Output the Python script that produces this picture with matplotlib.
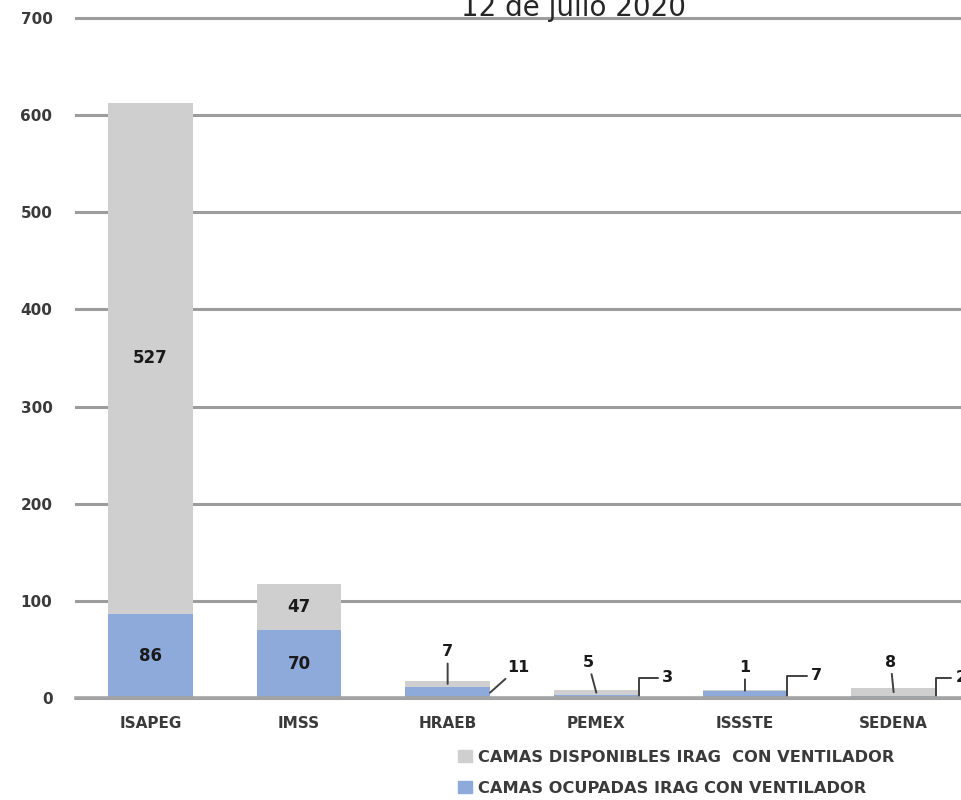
import matplotlib.pyplot as plt
from matplotlib.patches import Patch
import numpy as np

# datos
instituciones = ["ISAPEG", "IMSS", "HRAEB", "PEMEX", "ISSSTE", "SEDENA"]
ocupadas = [86, 70, 11, 3, 7, 2]
disponibles = [527, 47, 7, 5, 1, 8]
titulo = "12 de julio 2020"
serie_disp = "CAMAS DISPONIBLES IRAG  CON VENTILADOR"
serie_ocup = "CAMAS OCUPADAS IRAG CON VENTILADOR"

# estilo
AZUL = "#8eaadb"
GRIS = "#d0cfd0"
ANCHO = 0.57
GRID = "#9c9c9c"
TXT = "#3a3a3a"
plt.rcParams['font.family'] = ['DejaVu Sans']
plt.rcParams['font.weight'] = 'bold'

fig = plt.figure(figsize=(9.62, 8.0), dpi=100)
ax = fig.add_axes([0.079, 0.1275, 0.9272, 0.85])
x = np.arange(len(instituciones))
bocup = ax.bar(x, ocupadas, ANCHO, color=AZUL, zorder=3)
bdisp = ax.bar(x, disponibles, ANCHO, bottom=ocupadas, color=GRIS, zorder=3)

ax.set_xlim(-0.5, len(instituciones) - 0.5)
ax.set_ylim(0, 700)
ax.set_yticks(range(0, 701, 100))
ax.set_xticks(x)
ax.set_xticklabels(instituciones)
ax.grid(axis='y', color=GRID, linewidth=2.2, zorder=0)
ax.grid(axis='x', visible=False)
for gl in ax.get_ygridlines():
    gl.set_clip_on(False)
ax.axhline(0, color="#a3a3a3", linewidth=2.6, zorder=4, clip_on=False)
for s in ax.spines.values():
    s.set_visible(False)
ax.tick_params(axis='y', length=0, pad=17, labelsize=11, labelcolor=TXT)
ax.tick_params(axis='x', length=0, pad=13, labelsize=11, labelcolor=TXT)

# etiquetas centradas en barras grandes
grande = [o + d > 50 for o, d in zip(ocupadas, disponibles)]
ax.bar_label(bocup, labels=[str(v) if g else "" for v, g in zip(ocupadas, grande)],
             label_type='center', fontsize=12, color="#1a1a1a")
ax.bar_label(bdisp, labels=[str(v) if g else "" for v, g in zip(disponibles, grande)],
             label_type='center', fontsize=12, color="#1a1a1a")

# etiquetas con lineas guia en barras pequenas (offset en pixeles)
off_disp = {2: (0, 32), 3: (-8, 30), 4: (0, 23), 5: (-3, 30)}
off_ocup = {2: (28, 25), 3: (29, 20), 4: (29, 22), 5: (25, 20)}
flecha = dict(arrowstyle='-', color="#404040", lw=1.4, shrinkA=1, shrinkB=0)
for i in range(len(instituciones)):
    if grande[i]:
        continue
    ax.annotate(str(disponibles[i]), xy=(i, ocupadas[i] + disponibles[i] / 2),
                xytext=off_disp[i], textcoords='offset pixels', ha='center', va='center',
                fontsize=11.5, color="#1a1a1a", arrowprops=flecha, annotation_clip=False)
    if i == 2:
        ax.annotate(str(ocupadas[i]), xy=(i + ANCHO / 2, ocupadas[i] / 2),
                    xytext=off_ocup[i], textcoords='offset pixels', ha='center', va='center',
                    fontsize=11.5, color="#1a1a1a", arrowprops=flecha, annotation_clip=False)
    else:
        ax.annotate(str(ocupadas[i]), xy=(i + ANCHO / 2, 0),
                    xytext=off_ocup[i], textcoords='offset pixels', ha='center', va='center',
                    fontsize=11.5, color="#1a1a1a", annotation_clip=False,
                    arrowprops=dict(flecha, connectionstyle="angle,angleA=0,angleB=90,rad=0"))

fig.text(574 / 962, 0.98, titulo, ha='center', va='baseline', fontsize=20,
         fontweight='normal', color="#262626")

fig.legend(handles=[Patch(color=GRIS), Patch(color=AZUL)], labels=[serie_disp, serie_ocup],
           loc='upper left', bbox_to_anchor=(458 / 962, 0.063), frameon=False,
           borderpad=0, borderaxespad=0, fontsize=11.7, handlelength=0.86, handleheight=0.74,
           handletextpad=0.35, labelspacing=0.98, labelcolor=TXT)

plt.savefig("out.png", dpi=100)
plt.close()
